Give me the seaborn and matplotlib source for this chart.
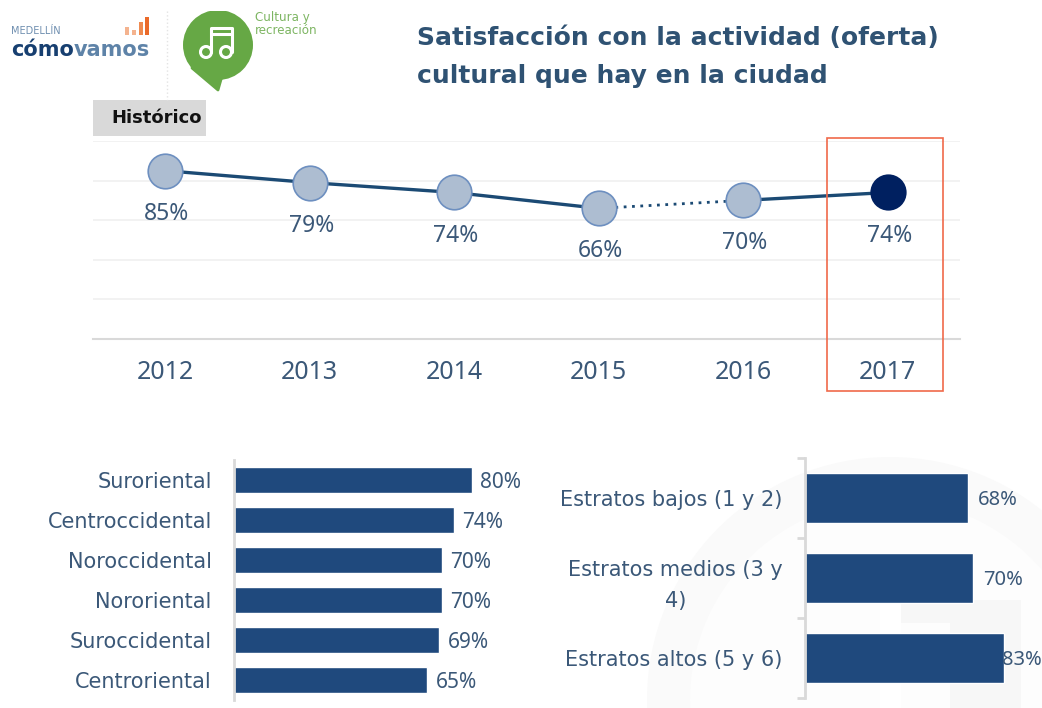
import seaborn as sns
import matplotlib.pyplot as plt
import matplotlib.patches as mpatches
import pandas as pd

TEXT_COLOR = '#3b5878'
BAR_COLOR = '#1f497d'
LINE_COLOR = '#1b4a74'
AXIS_GREY = '#d9d9d9'
NUM_FONT = 'Noto Sans'
W, H = 1042, 708

years = ['2012', '2013', '2014', '2015', '2016', '2017']
hist_values = [85, 79, 74, 66, 70, 74]
zonas = ['Suroriental', 'Centroccidental', 'Noroccidental', 'Nororiental', 'Suroccidental', 'Centroriental']
zonas_values = [80, 74, 70, 70, 69, 65]
estratos = ['Estratos bajos (1 y 2)', 'Estratos medios (3 y\n4)', 'Estratos altos (5 y 6)']
estratos_values = [68, 70, 83]


def px_axes(fig, left, top, right, bottom):
    return fig.add_axes([left / W, 1 - bottom / H, (right - left) / W, (bottom - top) / H], facecolor='none', zorder=2)


def draw_background(fig):
    bg = fig.add_axes([0, 0, 1, 1], zorder=0)
    bg.set_xlim(0, W)
    bg.set_ylim(H, 0)
    bg.axis('off')

    # watermark behind the right bars
    bg.add_patch(mpatches.Circle((890, 700), 243, fc='#fafafa', ec='none'))
    bg.add_patch(mpatches.Circle((890, 700), 200, fc='#fdfdfd', ec='none'))
    bg.add_patch(mpatches.Rectangle((901, 600), 120, 23, fc='#f7f7f7', ec='none'))
    bg.add_patch(mpatches.Rectangle((880, 600), 21, 108, fc='#ffffff', ec='none'))
    bg.add_patch(mpatches.Rectangle((950, 623), 71, 85, fc='#f7f7f7', ec='none'))

    # como vamos logo
    bg.text(11, 31, 'MEDELLÍN', fontsize=7, color='#6f8fb0', va='center')
    t = bg.text(11, 50, 'cómo', fontsize=15, fontweight='bold', color='#173f70', va='center')
    fig.canvas.draw()
    end = t.get_window_extent().x1
    bg.text(end, 50, 'vamos', fontsize=15, fontweight='bold', color='#5e83a8', va='center')
    for x, top, col in [(125, 27, '#f4b38f'), (132, 30, '#f4b38f'), (139, 22, '#ef8a50'), (145, 17, '#ea6a2a')]:
        bg.add_patch(mpatches.Rectangle((x, top), 4, 35 - top, fc=col, ec='none'))
    bg.plot([167, 167], [11, 100], color='#e4e4e4', lw=1, ls=':')

    # culture icon
    green = '#66a845'
    bg.add_patch(mpatches.Polygon([[192, 68], [218, 90], [222, 76]], closed=True, fc=green, ec=green, lw=2, joinstyle='round'))
    bubble = mpatches.Circle((218, 45), 35, fc=green, ec='none')
    bg.add_patch(bubble)
    bubble.set_clip_path(mpatches.Rectangle((180, 11), 80, 80, transform=bg.transData))
    bg.add_patch(mpatches.Circle((206, 52), 5.5, fc='none', ec='white', lw=2.2))
    bg.add_patch(mpatches.Circle((226, 52), 5.5, fc='none', ec='white', lw=2.2))
    bg.plot([211, 211, 232, 232], [52, 28, 28, 52], color='white', lw=2.2)
    bg.plot([211, 232], [34, 34], color='white', lw=2.2)
    bg.text(255, 18, 'Cultura y', fontsize=8.6, color='#7db562', va='center')
    bg.text(255, 31, 'recreación', fontsize=8.6, color='#7db562', va='center')

    # title and tag
    bg.text(417, 38, 'Satisfacción con la actividad (oferta)', fontsize=18, fontweight='bold', color='#2f5273', va='center')
    bg.text(417, 76, 'cultural que hay en la ciudad', fontsize=18, fontweight='bold', color='#2f5273', va='center')
    bg.add_patch(mpatches.Rectangle((93, 100), 113, 36, fc=AXIS_GREY, ec='none'))
    bg.text(111, 118, 'Histórico', fontsize=13, fontweight='bold', color='#111111', va='center')


def plot_history(fig):
    ax = px_axes(fig, 93, 141, 960, 339)
    df = pd.DataFrame({'year': years, 'value': hist_values})
    ax.set_xlim(-0.5, 5.5)
    ax.set_ylim(0, 100)
    # solid, dotted, solid stretches of the same series
    sns.lineplot(data=df.iloc[:4], x='year', y='value', color=LINE_COLOR, lw=2.4, ax=ax, sort=False)
    sns.lineplot(data=df.iloc[3:5], x='year', y='value', color=LINE_COLOR, lw=2, ls=(0, (1, 2)), ax=ax, sort=False)
    sns.lineplot(data=df.iloc[4:], x='year', y='value', color=LINE_COLOR, lw=2.4, ax=ax, sort=False)
    sns.scatterplot(data=df.iloc[:5], x='year', y='value', s=620, color='#adbdd1', edgecolor='#6d8fc0', linewidth=1.2, ax=ax, zorder=3, clip_on=False)
    sns.scatterplot(data=df.iloc[5:], x='year', y='value', s=620, color='#002060', edgecolor='#002060', linewidth=1.2, ax=ax, zorder=3, clip_on=False)
    for i, v in enumerate(hist_values):
        ax.annotate(f'{v}%', (i, v), xytext=(1, -31), textcoords='offset points', ha='center', va='center',
                    fontsize=16.5, color=TEXT_COLOR, family=NUM_FONT)
    ax.set_xlim(-0.5, 5.5)
    ax.set_ylim(0, 100)
    ax.set_yticks(range(0, 101, 20))
    ax.set_yticklabels([])
    ax.grid(axis='y', color='#f0f0f0', lw=1.2)
    ax.set_axisbelow(True)
    ax.set_xlabel('')
    ax.set_ylabel('')
    ax.tick_params(axis='x', length=0, pad=15, labelsize=18, labelcolor=TEXT_COLOR)
    for lab in ax.get_xticklabels():
        lab.set_family(NUM_FONT)
    ax.tick_params(axis='y', length=0)
    for side in ['top', 'left', 'right']:
        ax.spines[side].set_visible(False)
    ax.spines['bottom'].set_color(AXIS_GREY)
    ax.spines['bottom'].set_linewidth(1.5)


def plot_bars(ax, names, values, xmax, width, pad, labelgap, labelsize):
    df = pd.DataFrame({'name': names, 'value': values})
    sns.barplot(data=df, y='name', x='value', orient='h', color=BAR_COLOR, saturation=1, width=width, ax=ax)
    ax.set_xlim(0, xmax)
    ax.set_ylim(len(names) - 0.5, -0.5)
    ax.set_xticks([])
    ax.set_xlabel('')
    ax.set_ylabel('')
    for i, v in enumerate(values):
        ax.annotate(f'{v}%', (v, i), xytext=(labelgap, -1.5), textcoords='offset points', va='center', ha='left',
                    fontsize=labelsize, color=TEXT_COLOR, family=NUM_FONT, annotation_clip=False)
    ax.tick_params(axis='y', length=0, pad=pad, labelsize=15, labelcolor=TEXT_COLOR)
    for lab in ax.get_yticklabels():
        lab.set_multialignment('center')
        lab.set_linespacing(1.7)
    for side in ['top', 'bottom', 'right']:
        ax.spines[side].set_visible(False)
    ax.spines['left'].set_color(AXIS_GREY)
    ax.spines['left'].set_linewidth(2)


sns.set_style('white')
plt.rcParams['font.family'] = ['DejaVu Sans']

fig = plt.figure(figsize=(W / 100, H / 100), dpi=100)
draw_background(fig)
plot_history(fig)

ax_z = px_axes(fig, 234, 460, 530, 700)
plot_bars(ax_z, zonas, zonas_values, 99.6, 0.63, 16, 6, 15)

ax_e = px_axes(fig, 805, 458, 1041, 698)
plot_bars(ax_e, estratos, estratos_values, 98.2, 0.62, 16, 7, 14.5)
ax_e.texts[2].xyann = (-1.5, -1.5)
ax_e.set_yticks([-0.5, 0.5, 1.5, 2.5], minor=True)
ax_e.tick_params(axis='y', which='minor', length=6, width=2, color=AXIS_GREY, left=True)

# highlight around the last year
over = fig.add_axes([0, 0, 1, 1], facecolor='none', zorder=3)
over.set_xlim(0, W)
over.set_ylim(H, 0)
over.axis('off')
over.add_patch(mpatches.Rectangle((827, 138), 116, 253, fc='none', ec='#f0694a', lw=1.2))

fig.savefig('out.png', dpi=100)
